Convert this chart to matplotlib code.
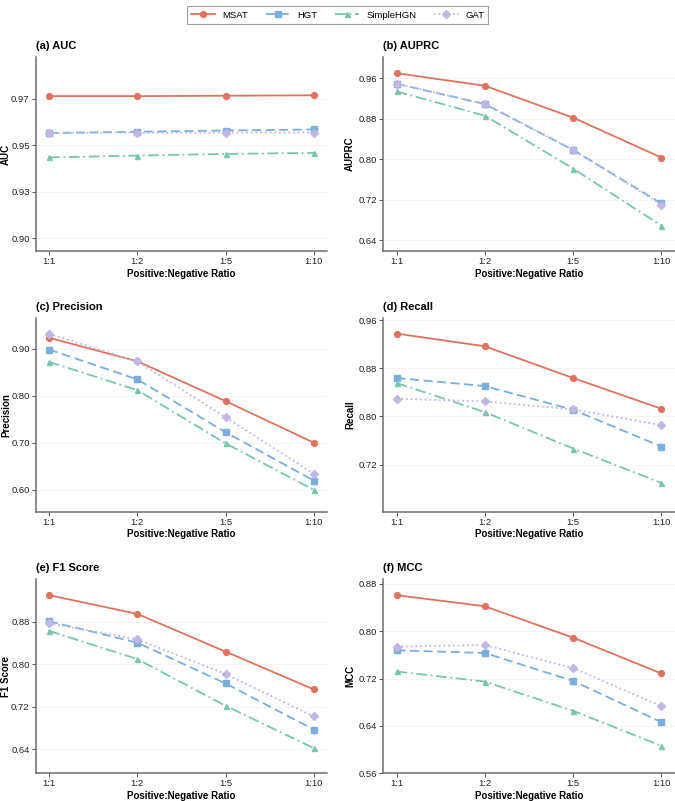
import matplotlib
matplotlib.use("Agg")
from matplotlib import pyplot as plt

plt.rcParams['font.family'] = ['Liberation Sans', 'DejaVu Sans']

# x categories
ratios = ['1:1', '1:2', '1:5', '1:10']
models = ['MSAT', 'HGT', 'SimpleHGN', 'GAT']

# values, one list per model per metric
auc_msat = [0.9712, 0.9712, 0.9714, 0.9716]
auc_hgt = [0.9534, 0.9540, 0.9546, 0.9551]
auc_simplehgn = [0.9416, 0.9425, 0.9433, 0.9438]
auc_gat = [0.9534, 0.9535, 0.9536, 0.9536]

auprc_msat = [0.9698, 0.9449, 0.8820, 0.8033]
auprc_hgt = [0.9489, 0.9089, 0.8184, 0.7128]
auprc_simplehgn = [0.9338, 0.8859, 0.7816, 0.6689]
auprc_gat = [0.9489, 0.9089, 0.8184, 0.7105]

prec_msat = [0.9235, 0.8736, 0.7886, 0.7000]
prec_hgt = [0.8985, 0.8349, 0.7222, 0.6192]
prec_simplehgn = [0.8722, 0.8121, 0.6986, 0.5994]
prec_gat = [0.9320, 0.8730, 0.7544, 0.6338]

rec_msat = [0.9378, 0.9167, 0.8639, 0.8128]
rec_hgt = [0.8639, 0.8506, 0.8111, 0.7500]
rec_simplehgn = [0.8556, 0.8072, 0.7467, 0.6894]
rec_gat = [0.8295, 0.8250, 0.8117, 0.7856]

f1_msat = [0.9304, 0.8951, 0.8240, 0.7527]
f1_hgt = [0.8812, 0.8409, 0.7640, 0.6771]
f1_simplehgn = [0.8630, 0.8100, 0.7219, 0.6419]
f1_gat = [0.8774, 0.8473, 0.7817, 0.7017]

mcc_msat = [0.8607, 0.8420, 0.7890, 0.7285]
mcc_hgt = [0.7676, 0.7631, 0.7160, 0.6463]
mcc_simplehgn = [0.7319, 0.7148, 0.6654, 0.6064]
mcc_gat = [0.7738, 0.7766, 0.7376, 0.6733]

# tick labels as printed on each panel
auc_ticks = [0.9025, 0.925, 0.9475, 0.97]
auc_ticklabels = ['0.90', '0.93', '0.95', '0.97']
auprc_ticks = [0.64, 0.72, 0.80, 0.88, 0.96]
prec_ticks = [0.60, 0.70, 0.80, 0.90]
rec_ticks = [0.72, 0.80, 0.88, 0.96]
f1_ticks = [0.64, 0.72, 0.80, 0.88]
mcc_ticks = [0.56, 0.64, 0.72, 0.80, 0.88]

colors = ['#E0735F', '#7AAEDE', '#79C6AC', '#C1B6E4']
styles = ['-', (0, (5, 2.5)), (0, (6, 2, 1, 2)), (0, (1, 1.6))]
markers = ['o', 's', '^', 'D']
msizes = [4.2, 4.2, 3.6, 3.8]

panels = [
    ('(a) AUC', 'AUC', [auc_msat, auc_hgt, auc_simplehgn, auc_gat], auc_ticks, auc_ticklabels, (0.8964, 0.990)),
    ('(b) AUPRC', 'AUPRC', [auprc_msat, auprc_hgt, auprc_simplehgn, auprc_gat], auprc_ticks, None, (0.619, 1.0013)),
    ('(c) Precision', 'Precision', [prec_msat, prec_hgt, prec_simplehgn, prec_gat], prec_ticks, None, (0.553, 0.966)),
    ('(d) Recall', 'Recall', [rec_msat, rec_hgt, rec_simplehgn, rec_gat], rec_ticks, None, (0.6417, 0.964)),
    ('(e) F1 Score', 'F1 Score', [f1_msat, f1_hgt, f1_simplehgn, f1_gat], f1_ticks, None, (0.5946, 0.960)),
    ('(f) MCC', 'MCC', [mcc_msat, mcc_hgt, mcc_simplehgn, mcc_gat], mcc_ticks, None, (0.560, 0.8873)),
]

fig = plt.figure(figsize=(6.75, 8.01), dpi=100)

lefts = [0.0529, 0.5679]
bottoms = [0.6866, 0.3612, 0.0346]
w = 0.4316
h = 0.2420
label_x = [-0.084, -0.097]

x = list(range(len(ratios)))
for k, (title, ylab, series, ticks, tlabels, ylim) in enumerate(panels):
    row, col = k // 2, k % 2
    ax = fig.add_axes([lefts[col], bottoms[row], w, h])
    # drawn in legend order, so GAT ends up on top
    for i in range(len(models)):
        ax.plot(x, series[i], color=colors[i], linestyle=styles[i], marker=markers[i],
                markersize=msizes[i], linewidth=1.3, label=models[i], zorder=3 + i)
    ax.set_xlim(-0.15, 3.15)
    ax.set_ylim(*ylim)
    ax.set_xticks(x)
    ax.set_xticklabels(ratios)
    ax.set_yticks(ticks)
    if tlabels is not None:
        ax.set_yticklabels(tlabels)
    else:
        ax.set_yticklabels(['%.2f' % t for t in ticks])
    for t in ticks:
        ax.axhline(t, color='#F2F2F2', linewidth=0.6, zorder=0)
    for s in ['top', 'right']:
        ax.spines[s].set_visible(False)
    for s in ['left', 'bottom']:
        ax.spines[s].set_color('#6E6E6E')
        ax.spines[s].set_linewidth(1.1)
    ax.tick_params(axis='both', labelsize=6.8, colors='#555555', labelcolor='#222222',
                   length=2.8, width=0.7, pad=1.5)
    ax.set_xlabel('Positive:Negative Ratio', fontsize=7, fontweight='bold', labelpad=2)
    ax.set_ylabel(ylab, fontsize=7, fontweight='bold')
    ax.yaxis.set_label_coords(label_x[col], 0.5)
    ax.set_title(title, fontsize=8, fontweight='bold', loc='left', x=0.0, pad=6)

handles, labels = fig.axes[0].get_legend_handles_labels()
leg = fig.legend(handles, labels, loc='upper center', ncol=4,
                 bbox_to_anchor=(0.5, 0.998), fontsize=6.8, frameon=True, fancybox=False,
                 handlelength=2.6, columnspacing=1.9, borderpad=0.45, handletextpad=0.7)
leg.get_frame().set_edgecolor('#888888')
leg.get_frame().set_linewidth(0.8)

plt.savefig('out.png', dpi=100)
